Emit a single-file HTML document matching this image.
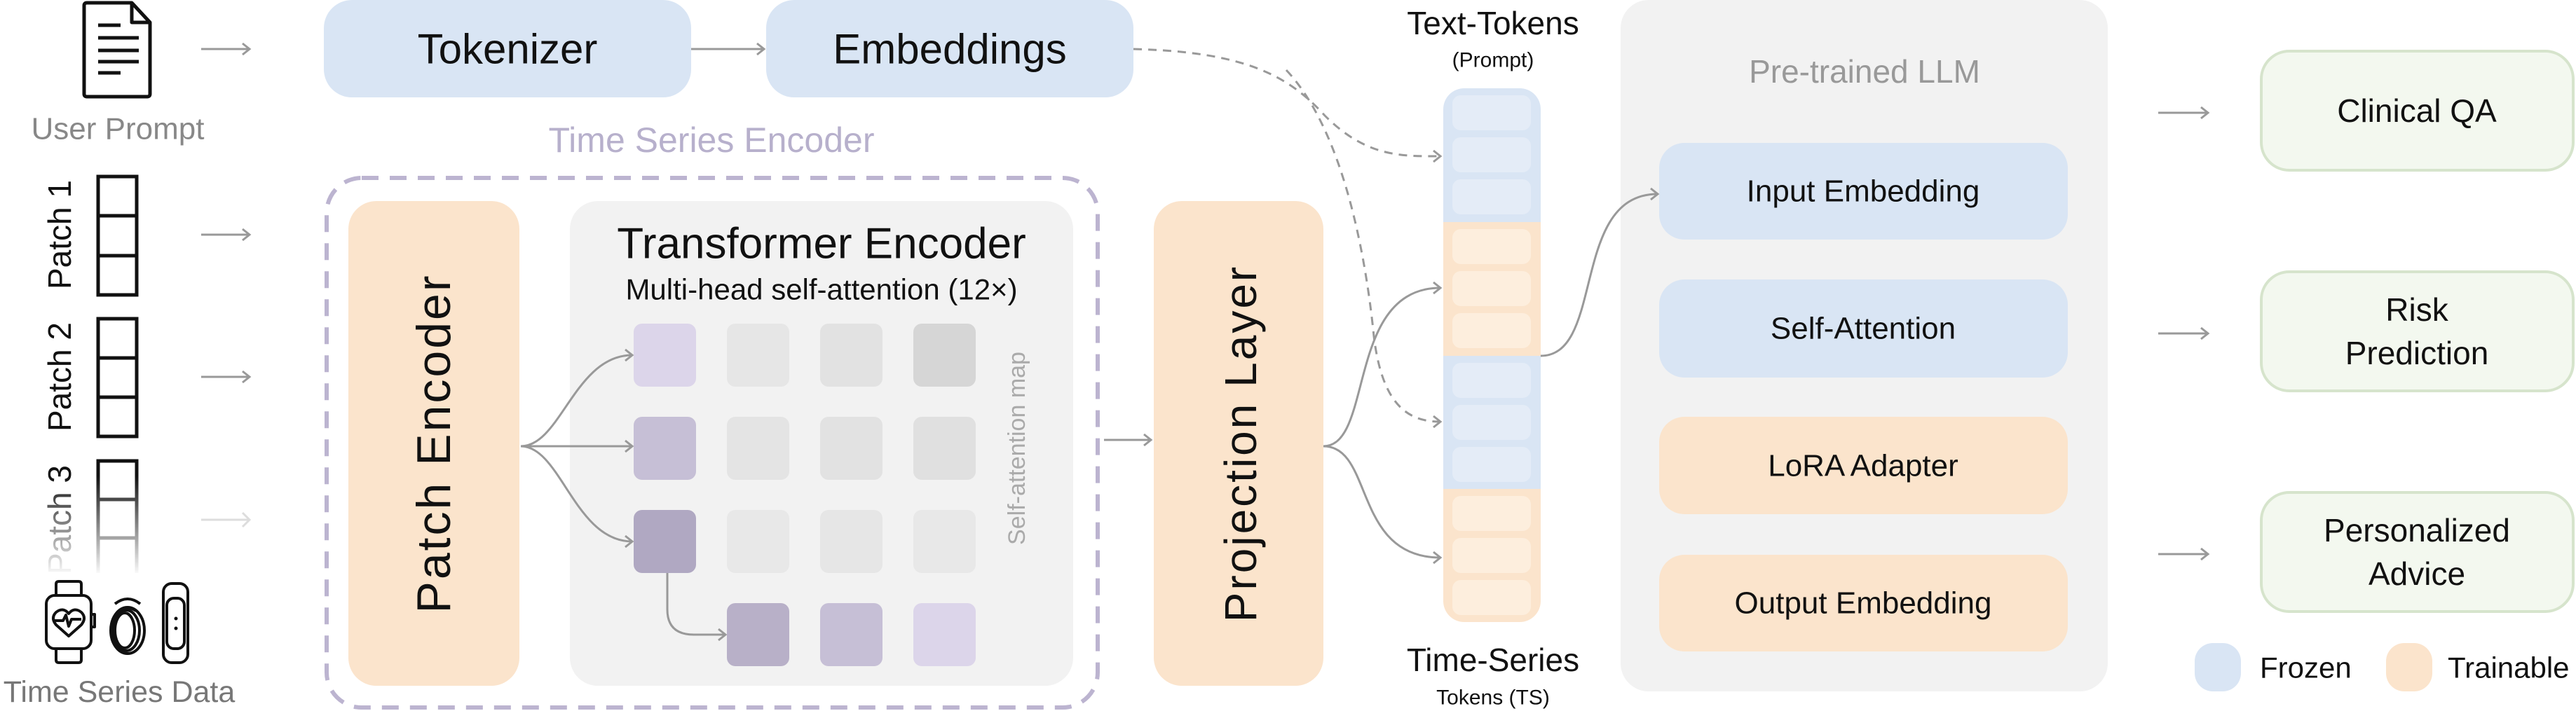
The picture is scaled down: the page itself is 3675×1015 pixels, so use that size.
<!DOCTYPE html>
<html><head><meta charset="utf-8"><style>
html,body{margin:0;padding:0;background:#fff;}
svg{display:block;}
text{font-family:"Liberation Sans",sans-serif;}
</style></head><body>
<svg width="3675" height="1015" viewBox="0 0 3675 1015" xmlns="http://www.w3.org/2000/svg">
<defs>
<marker id="ah" markerWidth="20" markerHeight="20" refX="14" refY="10" orient="auto" markerUnits="userSpaceOnUse">
<polyline points="4,2 14,10 4,18" fill="none" stroke="#999" stroke-width="3"/>
</marker>
<linearGradient id="fade" x1="0" y1="0" x2="0" y2="1">
<stop offset="0" stop-color="#fff" stop-opacity="0"/>
<stop offset="1" stop-color="#fff" stop-opacity="1"/>
</linearGradient>
</defs>

<!-- Doc icon -->
<g fill="none" stroke="#111" stroke-width="5" stroke-linejoin="round">
<path d="M124,4 H188 L214,32 V134 Q214,138 210,138 H124 Q120,138 120,134 V8 Q120,4 124,4 Z"/>
<path d="M188,4 V32 H214"/>
<line x1="140" y1="36" x2="172" y2="36"/><line x1="140" y1="54" x2="198" y2="54"/>
<line x1="140" y1="72" x2="198" y2="72"/><line x1="140" y1="88" x2="198" y2="88"/>
<line x1="140" y1="104" x2="172" y2="104"/>
</g>
<text x="168" y="184" font-size="44" fill="#888" text-anchor="middle" dominant-baseline="central">User Prompt</text>

<!-- simple arrows -->
<g stroke="#999" stroke-width="3" fill="none">
<line x1="287" y1="70" x2="356" y2="70" marker-end="url(#ah)"/>
<line x1="287" y1="335" x2="356" y2="335" marker-end="url(#ah)"/>
<line x1="287" y1="538" x2="356" y2="538" marker-end="url(#ah)"/>
<line x1="986" y1="70" x2="1090" y2="70" marker-end="url(#ah)"/>
<line x1="1575" y1="628" x2="1642" y2="628" marker-end="url(#ah)"/>
<line x1="3079" y1="161" x2="3150" y2="161" marker-end="url(#ah)"/>
<line x1="3079" y1="476" x2="3150" y2="476" marker-end="url(#ah)"/>
<line x1="3079" y1="791" x2="3150" y2="791" marker-end="url(#ah)"/>
</g>
<g stroke="#ddd" stroke-width="3" fill="none">
<line x1="287" y1="742" x2="356" y2="742"/><polyline points="346,732 356,742 346,752"/>
</g>

<!-- Tokenizer / Embeddings -->
<rect x="462" y="0" width="524" height="139" rx="40" fill="#d9e5f4"/>
<text x="724" y="70" font-size="60" fill="#111" text-anchor="middle" dominant-baseline="central">Tokenizer</text>
<rect x="1093" y="0" width="524" height="139" rx="40" fill="#d9e5f4"/>
<text x="1355" y="70" font-size="60" fill="#111" text-anchor="middle" dominant-baseline="central">Embeddings</text>

<text x="1015" y="200" font-size="50" fill="#b7b0cc" text-anchor="middle" dominant-baseline="central">Time Series Encoder</text>

<!-- Patches -->
<g fill="none" stroke="#111" stroke-width="5">
<rect x="140" y="252" width="55" height="169"/><line x1="140" y1="308" x2="195" y2="308"/><line x1="140" y1="365" x2="195" y2="365"/>
<rect x="140" y="455" width="55" height="168"/><line x1="140" y1="511" x2="195" y2="511"/><line x1="140" y1="567" x2="195" y2="567"/>
<path d="M140,818 V658 H195 V818"/><line x1="140" y1="713" x2="195" y2="713"/><line x1="140" y1="768" x2="195" y2="768"/>
</g>
<text transform="translate(85,335) rotate(-90)" font-size="46" fill="#111" text-anchor="middle" dominant-baseline="central">Patch 1</text>
<text transform="translate(85,538) rotate(-90)" font-size="46" fill="#111" text-anchor="middle" dominant-baseline="central">Patch 2</text>
<text transform="translate(85,742) rotate(-90)" font-size="46" fill="#111" text-anchor="middle" dominant-baseline="central">Patch 3</text>
<rect x="40" y="680" width="170" height="142" fill="url(#fade)"/>
<rect x="40" y="818" width="170" height="12" fill="#fff"/>

<!-- Wearables -->
<g fill="none" stroke="#111" stroke-width="4" stroke-linejoin="round">
<rect x="66" y="850" width="64" height="76" rx="12"/>
<path d="M80,850 V834 Q80,830 84,830 H112 Q116,830 116,834 V850"/>
<path d="M80,926 V942 Q80,946 84,946 H112 Q116,946 116,942 V926"/>
<rect x="130" y="877" width="5" height="18"/>
<path d="M98,908 L80,892 Q72,882 80,874 Q90,866 98,876 Q106,866 116,874 Q124,882 116,892 Z"/>
<polyline points="78,886 90,886 94,878 98,894 102,884 116,884"/>
<ellipse cx="182" cy="900" rx="24" ry="33"/><ellipse cx="178" cy="900" rx="14" ry="25"/><ellipse cx="180" cy="900" rx="19" ry="29"/>
<path d="M164,862 Q182,848 200,862"/><path d="M170,872 Q182,864 194,872"/>
<rect x="233" y="833" width="35" height="113" rx="12"/>
<rect x="238" y="854" width="25" height="72" rx="10"/>
</g>
<circle cx="251" cy="883" r="2.5" fill="#111"/><circle cx="251" cy="897" r="2.5" fill="#111"/>
<text x="170" y="988" font-size="43" fill="#777" text-anchor="middle" dominant-baseline="central">Time Series Data</text>

<!-- Time series encoder -->
<rect x="466" y="254" width="1100" height="756" rx="50" fill="none" stroke="#bcb4d0" stroke-width="6" stroke-dasharray="24 16"/>
<rect x="497" y="287" width="244" height="692" rx="40" fill="#fbe4cc"/>
<text transform="translate(619,633) rotate(-90)" font-size="68" fill="#111" text-anchor="middle" dominant-baseline="central" letter-spacing="3">Patch Encoder</text>
<rect x="813" y="287" width="718" height="692" rx="40" fill="#f2f2f2"/>
<text x="1172" y="348" font-size="62" fill="#111" text-anchor="middle" dominant-baseline="central">Transformer Encoder</text>
<text x="1172" y="413" font-size="42" fill="#111" text-anchor="middle" dominant-baseline="central">Multi-head self-attention (12×)</text>
<g>
<rect x="904" y="462" width="89" height="90" rx="12" fill="#dcd5ea"/>
<rect x="1037" y="462" width="89" height="90" rx="12" fill="#e6e6e6"/>
<rect x="1170" y="462" width="89" height="90" rx="12" fill="#e2e2e2"/>
<rect x="1303" y="462" width="89" height="90" rx="12" fill="#d6d6d6"/>
<rect x="904" y="595" width="89" height="90" rx="12" fill="#c6bfd6"/>
<rect x="1037" y="595" width="89" height="90" rx="12" fill="#e4e4e4"/>
<rect x="1170" y="595" width="89" height="90" rx="12" fill="#e2e2e2"/>
<rect x="1303" y="595" width="89" height="90" rx="12" fill="#e0e0e0"/>
<rect x="904" y="728" width="89" height="90" rx="12" fill="#b0a8c2"/>
<rect x="1037" y="728" width="89" height="90" rx="12" fill="#e8e8e8"/>
<rect x="1170" y="728" width="89" height="90" rx="12" fill="#e6e6e6"/>
<rect x="1303" y="728" width="89" height="90" rx="12" fill="#e8e8e8"/>
<rect x="1037" y="861" width="89" height="90" rx="12" fill="#b8b0c8"/>
<rect x="1170" y="861" width="89" height="90" rx="12" fill="#c6bfd6"/>
<rect x="1303" y="861" width="89" height="90" rx="12" fill="#dcd5ea"/>
</g>
<text transform="translate(1451,640) rotate(-90)" font-size="34" fill="#aaa" text-anchor="middle" dominant-baseline="central">Self-attention map</text>
<g stroke="#999" stroke-width="3" fill="none">
<path d="M743,637 C800,637 820,507 902,507" marker-end="url(#ah)"/>
<path d="M743,637 L902,637" marker-end="url(#ah)"/>
<path d="M743,637 C800,637 820,773 902,773" marker-end="url(#ah)"/>
<path d="M952,818 V870 Q952,906 990,906 L1035,906" marker-end="url(#ah)"/>
</g>

<!-- Projection -->
<rect x="1646" y="287" width="242" height="692" rx="40" fill="#fbe4cc"/>
<text transform="translate(1770,633) rotate(-90)" font-size="64" fill="#111" text-anchor="middle" dominant-baseline="central" letter-spacing="3">Projection Layer</text>

<!-- LLM -->
<rect x="2312" y="0" width="695" height="987" rx="40" fill="#f2f2f2"/>
<text x="2660" y="102" font-size="46" fill="#999" text-anchor="middle" dominant-baseline="central">Pre-trained LLM</text>
<rect x="2367" y="204" width="583" height="138" rx="36" fill="#d9e5f4"/>
<text x="2658" y="273" font-size="44" fill="#111" text-anchor="middle" dominant-baseline="central">Input Embedding</text>
<rect x="2367" y="399" width="583" height="140" rx="36" fill="#d9e5f4"/>
<text x="2658" y="469" font-size="44" fill="#111" text-anchor="middle" dominant-baseline="central">Self-Attention</text>
<rect x="2367" y="595" width="583" height="139" rx="36" fill="#fbe4cc"/>
<text x="2658" y="665" font-size="44" fill="#111" text-anchor="middle" dominant-baseline="central">LoRA Adapter</text>
<rect x="2367" y="792" width="583" height="138" rx="36" fill="#fbe4cc"/>
<text x="2658" y="861" font-size="44" fill="#111" text-anchor="middle" dominant-baseline="central">Output Embedding</text>

<!-- Token column -->
<text x="2130" y="33" font-size="46" fill="#111" text-anchor="middle" dominant-baseline="central">Text-Tokens</text>
<text x="2130" y="86" font-size="30" fill="#111" text-anchor="middle" dominant-baseline="central">(Prompt)</text>
<clipPath id="col"><rect x="2059" y="126" width="139" height="762" rx="30"/></clipPath>
<g clip-path="url(#col)">
<rect x="2059" y="126" width="139" height="191" fill="#d9e5f4"/>
<rect x="2059" y="317" width="139" height="191" fill="#fbe4cc"/>
<rect x="2059" y="508" width="139" height="190" fill="#d9e5f4"/>
<rect x="2059" y="698" width="139" height="190" fill="#fbe4cc"/>
</g>
<g fill="#e4ecf7">
<rect x="2072" y="136" width="112" height="50" rx="12"/><rect x="2072" y="196" width="112" height="50" rx="12"/><rect x="2072" y="256" width="112" height="50" rx="12"/>
<rect x="2072" y="518" width="112" height="50" rx="12"/><rect x="2072" y="578" width="112" height="50" rx="12"/><rect x="2072" y="638" width="112" height="50" rx="12"/>
</g>
<g fill="#fdeedd">
<rect x="2072" y="327" width="112" height="50" rx="12"/><rect x="2072" y="387" width="112" height="50" rx="12"/><rect x="2072" y="447" width="112" height="50" rx="12"/>
<rect x="2072" y="708" width="112" height="50" rx="12"/><rect x="2072" y="768" width="112" height="50" rx="12"/><rect x="2072" y="828" width="112" height="50" rx="12"/>
</g>
<text x="2130" y="942" font-size="46" fill="#111" text-anchor="middle" dominant-baseline="central">Time-Series</text>
<text x="2130" y="996" font-size="30" fill="#111" text-anchor="middle" dominant-baseline="central">Tokens (TS)</text>

<!-- connectors to tokens -->
<g stroke="#999" stroke-width="3" fill="none">
<path d="M1617,70 C1780,74 1840,110 1890,165 C1950,225 2000,223 2055,223" stroke-dasharray="12 9" marker-end="url(#ah)"/>
<path d="M1835,100 C1920,190 1950,380 1960,480 C1972,580 2010,602 2055,602" stroke-dasharray="12 9" marker-end="url(#ah)"/>
<path d="M1888,637 C1960,637 1920,411 2055,411" marker-end="url(#ah)"/>
<path d="M1888,637 C1960,637 1930,796 2055,796" marker-end="url(#ah)"/>
<path d="M2198,508 C2290,508 2240,277 2365,277" marker-end="url(#ah)"/>
</g>

<!-- outputs -->
<g fill="#f3f8ef" stroke="#d6e4cc" stroke-width="4">
<rect x="3226" y="73" width="445" height="170" rx="40"/>
<rect x="3226" y="388" width="445" height="170" rx="40"/>
<rect x="3226" y="703" width="445" height="170" rx="40"/>
</g>
<text x="3448" y="158" font-size="46" fill="#111" text-anchor="middle" dominant-baseline="central">Clinical QA</text>
<text x="3448" y="442" font-size="46" fill="#111" text-anchor="middle" dominant-baseline="central">Risk</text>
<text x="3448" y="504" font-size="46" fill="#111" text-anchor="middle" dominant-baseline="central">Prediction</text>
<text x="3448" y="757" font-size="46" fill="#111" text-anchor="middle" dominant-baseline="central">Personalized</text>
<text x="3448" y="819" font-size="46" fill="#111" text-anchor="middle" dominant-baseline="central">Advice</text>

<!-- legend -->
<rect x="3131" y="918" width="66" height="69" rx="26" fill="#d9e5f4"/>
<text x="3224" y="953" font-size="42" fill="#111" dominant-baseline="central">Frozen</text>
<rect x="3404" y="918" width="66" height="69" rx="26" fill="#fbe4cc"/>
<text x="3492" y="953" font-size="42" fill="#111" dominant-baseline="central">Trainable</text>
</svg>
</body></html>
